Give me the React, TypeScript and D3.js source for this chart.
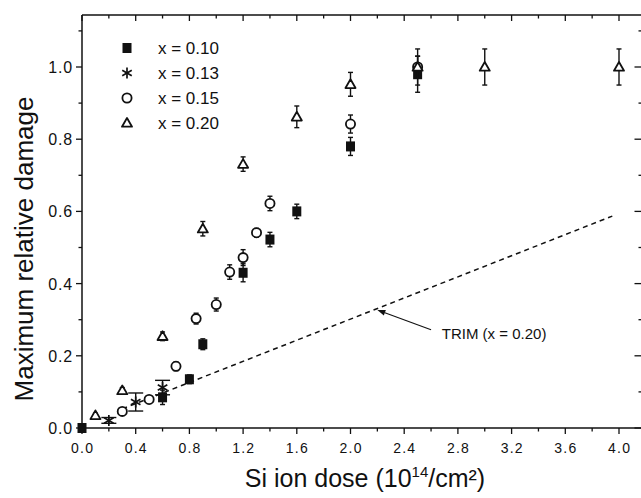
import React from 'react';
import * as d3 from 'd3';

// ---- axis ticks ----
const doseMajor = [0, 0.4, 0.8, 1.2, 1.6, 2.0, 2.4, 2.8, 3.2, 3.6, 4.0];
const doseLabels = ['0.0', '0.4', '0.8', '1.2', '1.6', '2.0', '2.4', '2.8', '3.2', '3.6', '4.0'];
const doseMinor = [0.2, 0.6, 1.0, 1.4, 1.8, 2.2, 2.6, 3.0, 3.4, 3.8];
const damageMajor = [0, 0.2, 0.4, 0.6, 0.8, 1.0];
const damageLabels = ['0.0', '0.2', '0.4', '0.6', '0.8', '1.0'];
const damageMinor = [0.1, 0.3, 0.5, 0.7, 0.9, 1.1];

// ---- series x = 0.10 (filled square) ----
const s10Dose = [0, 0.6, 0.8, 0.9, 1.2, 1.4, 1.6, 2.0, 2.5];
const s10Damage = [0, 0.085, 0.135, 0.232, 0.43, 0.522, 0.6, 0.78, 0.98];
const s10Err = [0, 0.02, 0.012, 0.015, 0.025, 0.02, 0.02, 0.025, 0.05];

// ---- series x = 0.13 (asterisk) ----
const s13Dose = [0.2, 0.4, 0.6];
const s13Damage = [0.021, 0.072, 0.112];
const s13Err = [0.008, 0.025, 0.02];

// ---- series x = 0.15 (open circle) ----
const s15Dose = [0.3, 0.5, 0.7, 0.85, 1.0, 1.1, 1.2, 1.3, 1.4, 2.0, 2.5];
const s15Damage = [0.046, 0.079, 0.171, 0.303, 0.342, 0.432, 0.472, 0.541, 0.622, 0.842, 1.0];
const s15Err = [0.006, 0.008, 0.012, 0.015, 0.018, 0.02, 0.022, 0.012, 0.02, 0.025, 0.03];

// ---- series x = 0.20 (open triangle) ----
const s20Dose = [0.1, 0.3, 0.6, 0.9, 1.2, 1.6, 2.0, 2.5, 3.0, 4.0];
const s20Damage = [0.035, 0.104, 0.254, 0.552, 0.731, 0.862, 0.952, 1.0, 1.0, 1.0];
const s20Err = [0.006, 0.008, 0.012, 0.02, 0.02, 0.03, 0.033, 0.05, 0.05, 0.05];

// ---- TRIM (x = 0.20) ----
const trimDose = [0.3, 3.95];
const trimDamage = [0.053, 0.587];

const legendLabels = ['x = 0.10', 'x = 0.13', 'x = 0.15', 'x = 0.20'];
const annotationText = 'TRIM (x = 0.20)';

const FONT = '"Liberation Sans", Arial, Helvetica, sans-serif';

const x = d3.scaleLinear().domain([0, 4]).range([82, 619]);
const y = d3.scaleLinear().domain([0, 1]).range([428, 67]);

type Shape = 'square' | 'star' | 'circle' | 'triangle';

function Marker({ cx, cy, shape }: { cx: number; cy: number; shape: Shape }) {
  if (shape === 'square') {
    return <rect x={cx - 4.5} y={cy - 5} width={9} height={10} fill="#111" />;
  }
  if (shape === 'circle') {
    return <circle cx={cx} cy={cy} r={4.6} fill="#fff" stroke="#111" strokeWidth={1.8} />;
  }
  if (shape === 'triangle') {
    const tri = d3.symbol().type(d3.symbolTriangle).size(44)();
    return (
      <path d={tri || ''} transform={`translate(${cx},${cy + 0.8})`} fill="#fff" stroke="#111" strokeWidth={1.8} strokeLinejoin="round" />
    );
  }
  const r = 5.5;
  const a = [90, 30, -30];
  return (
    <g stroke="#111" strokeWidth={1.7}>
      {a.map((deg) => {
        const rad = (deg * Math.PI) / 180;
        return (
          <line key={deg} x1={cx - r * Math.cos(rad)} y1={cy - r * Math.sin(rad)} x2={cx + r * Math.cos(rad)} y2={cy + r * Math.sin(rad)} />
        );
      })}
    </g>
  );
}

function Series({ dose, damage, err, shape, cap }: { dose: number[]; damage: number[]; err: number[]; shape: Shape; cap: number }) {
  return (
    <g>
      {dose.map((d, i) => {
        const cx = x(d);
        const e = err[i];
        if (!e) return null;
        const y1 = y(damage[i] + e);
        const y2 = y(damage[i] - e);
        return (
          <g key={'e' + i} stroke="#111" strokeWidth={1.4}>
            <line x1={cx} x2={cx} y1={y1} y2={y2} />
            <line x1={cx - cap} x2={cx + cap} y1={y1} y2={y1} />
            <line x1={cx - cap} x2={cx + cap} y1={y2} y2={y2} />
          </g>
        );
      })}
      {dose.map((d, i) => (
        <Marker key={'m' + i} cx={x(d)} cy={y(damage[i])} shape={shape} />
      ))}
    </g>
  );
}

export default function App() {
  const W = 641;
  const H = 498;
  const top = y(1.144);
  const right = x(4.175);
  const bottom = y(0);
  const left = x(0);

  const trimLine = d3
    .line<number>()
    .x((d) => x(d))
    .y((_, i) => y(trimDamage[i]))(trimDose);

  const legendShapes: Shape[] = ['square', 'star', 'circle', 'triangle'];
  const legendY = [48, 73, 98, 123];

  const tipX = x(2.2);
  const tipY = y(0.327);
  const tailX = x(2.6);
  const tailY = y(0.272);
  const ang = Math.atan2(tailY - tipY, tailX - tipX);
  const ah = 8;
  const aw = 3;
  const bx = tipX + ah * Math.cos(ang);
  const by = tipY + ah * Math.sin(ang);
  const arrowHead = `M${tipX},${tipY} L${bx - aw * Math.sin(ang)},${by + aw * Math.cos(ang)} L${bx + aw * Math.sin(ang)},${by - aw * Math.cos(ang)} Z`;

  return (
    <svg width={W} height={H} style={{ position: 'absolute', left: 0, top: 0, background: '#fff' }} fontFamily={FONT}>
      <rect x={0} y={0} width={W} height={H} fill="#fff" />
      {/* frame */}
      <g stroke="#111" strokeWidth={1.5} fill="none">
        <line x1={left} x2={right} y1={top} y2={top} />
        <line x1={left} x2={right} y1={bottom} y2={bottom} />
        <line x1={left} x2={left} y1={top} y2={bottom} />
        <line x1={right} x2={right} y1={top} y2={bottom} />
      </g>
      {/* bottom ticks (outward) and top ticks (inward) */}
      <g stroke="#111" strokeWidth={1.3}>
        {doseMajor.map((d) => (
          <g key={'dM' + d}>
            <line x1={x(d)} x2={x(d)} y1={bottom} y2={bottom + 6} />
            <line x1={x(d)} x2={x(d)} y1={top} y2={top + 6} />
          </g>
        ))}
        {doseMinor.map((d) => (
          <g key={'dm' + d}>
            <line x1={x(d)} x2={x(d)} y1={bottom} y2={bottom + 3.5} />
            <line x1={x(d)} x2={x(d)} y1={top} y2={top + 3.5} />
          </g>
        ))}
        {damageMajor.map((d) => (
          <g key={'yM' + d}>
            <line x1={left - 6} x2={left} y1={y(d)} y2={y(d)} />
            <line x1={right - 8} x2={right} y1={y(d)} y2={y(d)} />
          </g>
        ))}
        {damageMinor.map((d) => (
          <g key={'ym' + d}>
            <line x1={left - 3.5} x2={left} y1={y(d)} y2={y(d)} />
            <line x1={right - 4} x2={right} y1={y(d)} y2={y(d)} />
          </g>
        ))}
      </g>
      {/* tick labels */}
      <g fontSize={14} fill="#111" textAnchor="middle" letterSpacing={1.2}>
        {doseMajor.map((d, i) => (
          <text key={'dl' + d} x={x(d) + 0.6} y={bottom + 25}>
            {doseLabels[i]}
          </text>
        ))}
      </g>
      <g fontSize={16} fill="#111" textAnchor="end" letterSpacing={0.8}>
        {damageMajor.map((d, i) => (
          <text key={'yl' + d} x={left - 9} y={y(d) + 6}>
            {damageLabels[i]}
          </text>
        ))}
      </g>
      {/* axis titles */}
      <text x={365} y={487} fontSize={25} textAnchor="middle" fill="#111">
        Si ion dose (10
        <tspan fontSize={15} dy={-10}>14</tspan>
        <tspan dy={10}>/cm²)</tspan>
      </text>
      <text transform={`translate(33,249) rotate(-90)`} fontSize={26} textAnchor="middle" fill="#111">
        Maximum relative damage
      </text>
      {/* TRIM line */}
      <path d={trimLine || ''} fill="none" stroke="#111" strokeWidth={1.5} strokeDasharray="5,4" />
      {/* annotation */}
      <line x1={tailX} y1={tailY} x2={bx} y2={by} stroke="#111" strokeWidth={1.1} />
      <path d={arrowHead} fill="#111" />
      <text x={x(2.68)} y={y(0.247)} fontSize={15} fill="#111">
        {annotationText}
      </text>
      {/* data */}
      <Series dose={s13Dose} damage={s13Damage} err={s13Err} shape="star" cap={7.5} />
      <Series dose={s10Dose} damage={s10Damage} err={s10Err} shape="square" cap={2.5} />
      <Series dose={s15Dose} damage={s15Damage} err={s15Err} shape="circle" cap={2.5} />
      <Series dose={s20Dose} damage={s20Damage} err={s20Err} shape="triangle" cap={2.5} />
      {/* legend */}
      {legendLabels.map((lab, i) => (
        <g key={lab}>
          <Marker cx={127} cy={legendY[i]} shape={legendShapes[i]} />
          <text x={158} y={legendY[i] + 6} fontSize={17} fill="#111">
            {lab}
          </text>
        </g>
      ))}
    </svg>
  );
}
